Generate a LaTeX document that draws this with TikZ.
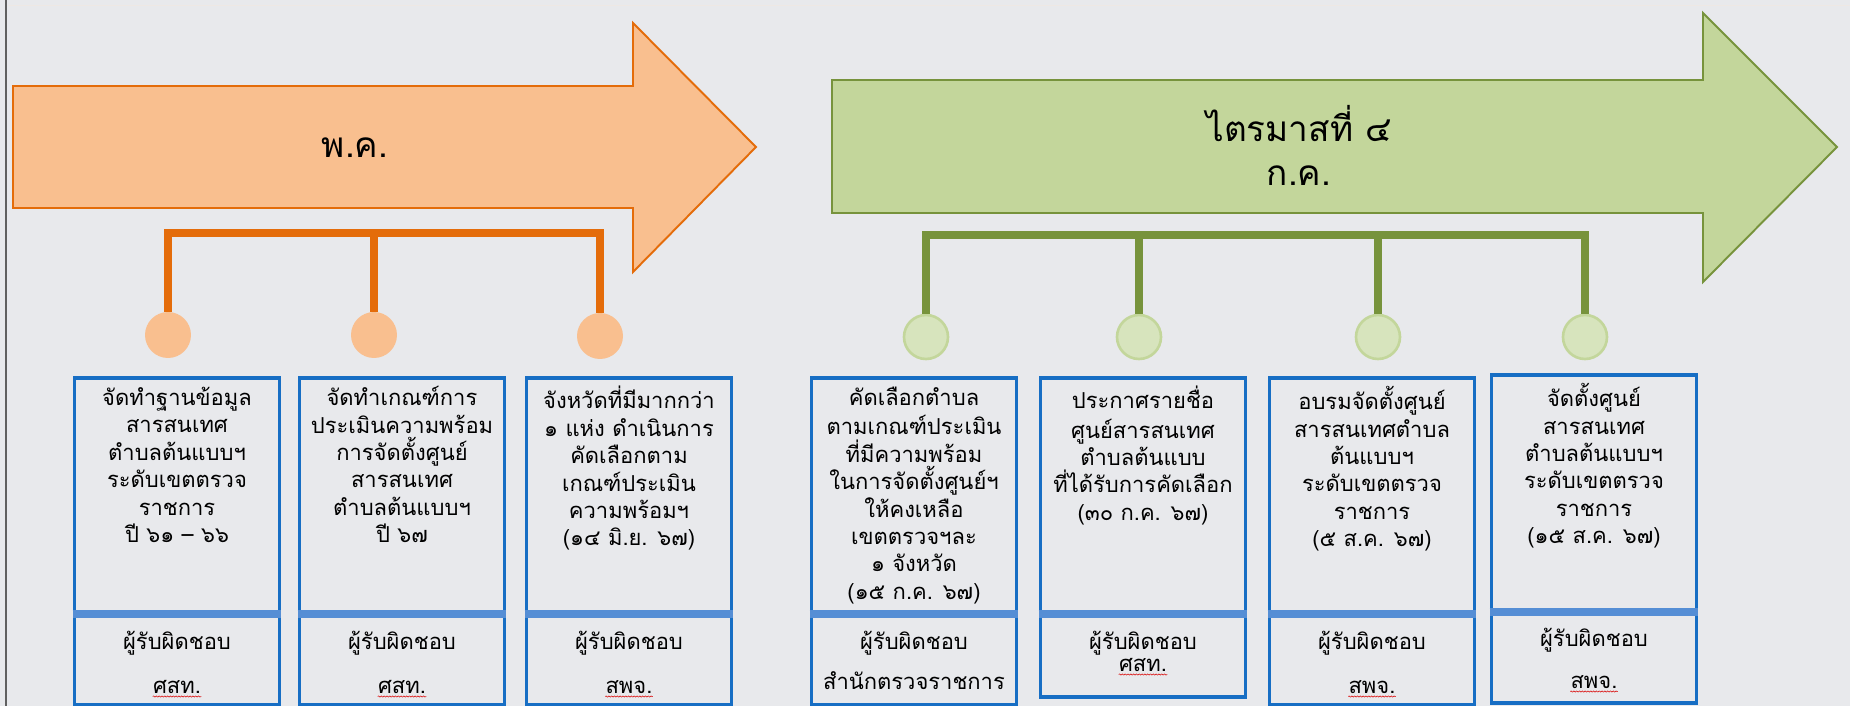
\documentclass[tikz,border=0pt]{standalone}
\usepackage{fontspec}
\newfontfamily\thaifont[Script=Thai]{Loma}
\usepackage{tikz}
\usetikzlibrary{positioning, decorations.pathmorphing}
\definecolor{bgpaper}{RGB}{232,233,236}
\definecolor{peach}{RGB}{249,191,143}
\definecolor{darkorange}{RGB}{228,108,10}
\definecolor{leaf}{RGB}{195,214,155}
\definecolor{paleleaf}{RGB}{215,228,189}
\definecolor{olive}{RGB}{119,147,60}
\definecolor{boxblue}{RGB}{23,110,196}
\definecolor{barblue}{RGB}{85,142,213}
\newcommand\taskfont{\thaifont\fontsize{12.5}{15.6}\selectfont}
\newcommand\headfont{\thaifont\fontsize{20}{25}\selectfont}

\begin{document}
\begin{tikzpicture}[x=0.02cm, y=-0.02cm,
    taskbox/.style={draw=boxblue, line width=2.2pt, minimum width=4.1cm, inner sep=0pt, anchor=north},
    divider/.style={barblue, line width=4.5pt},
    tasktext/.style={font=\taskfont, align=center, inner sep=0pt, anchor=north},
    whotext/.style={font=\taskfont, inner sep=0pt, anchor=base},
    spellmark/.style={red!85!black, line width=0.3pt, decorate, decoration={snake, amplitude=0.35pt, segment length=1.6pt}},
    orangedot/.style={circle, fill=peach, minimum size=0.92cm, inner sep=0pt},
    greendot/.style={circle, fill=paleleaf, draw=leaf, line width=1.5pt, minimum size=0.88cm, inner sep=0pt},
    orangeline/.style={darkorange, line width=4.5pt},
    greenline/.style={olive, line width=4.5pt},
    headtext/.style={font=\headfont, align=center}]
        \useasboundingbox (0,0) rectangle (1850,706);
        \fill[bgpaper] (0,0) rectangle (1850,706);
        \draw[bgpaper!85!brown!60!white, line width=0.5pt] (8,5) -- (1850,5);
        \draw[gray!75!black, line width=1.3pt] (6,0) -- (6,706);

        \filldraw[fill=peach, draw=darkorange, line width=1.1pt] (13,86) -- (633,86) -- (633,23) -- (756,147) -- (633,272) -- (633,208) -- (13,208) -- cycle;
        \filldraw[fill=leaf, draw=olive, line width=1.1pt] (832,80) -- (1703,80) -- (1703,13) -- (1837,147) -- (1703,282) -- (1703,213) -- (832,213) -- cycle;
        \node[headtext] (may) at (355,148) {พ.ค.};
        \node[headtext] (july) at (1299,145) {ไตรมาสที่ ๔\\ก.ค.};

        \coordinate (obar) at (0,233);
        \coordinate (gbar) at (0,235);
        \coordinate (split) at (0,614);
        \coordinate (splitb) at (0,612);

        \node[orangedot] (oc1) at (168,335) {};
        \node[orangedot] (oc2) at (374,335) {};
        \node[orangedot] (oc3) at (600,336) {};
        \node[greendot] (gc1) at (926,337) {};
        \node[greendot] (gc2) at (1139,337) {};
        \node[greendot] (gc3) at (1378,337) {};
        \node[greendot] (gc4) at (1585,337) {};
        \draw[orangeline] (oc1.north) |- (oc3.north |- obar) -- (oc3.north);
        \draw[orangeline] (oc2.north) -- (oc2.north |- obar);
        \draw[greenline] (gc1.north) |- (gc4.north |- gbar) -- (gc4.north);
        \draw[greenline] (gc2.north) -- (gc2.north |- gbar);
        \draw[greenline] (gc3.north) -- (gc3.north |- gbar);

        \node[taskbox, minimum height=6.54cm] (b1) at (177,376) {};
        \node[taskbox, minimum height=6.54cm] (b2) at (402,376) {};
        \node[taskbox, minimum height=6.54cm] (b3) at (629,376) {};
        \node[taskbox, minimum height=6.54cm] (b4) at (914,376) {};
        \node[taskbox, minimum height=6.38cm] (b5) at (1143,376) {};
        \node[taskbox, minimum height=6.54cm] (b6) at (1372,376) {};
        \node[taskbox, minimum height=6.56cm] (b7) at (1594,373) {};
        \draw[divider] (b1.west |- split) -- (b1.east |- split);
        \draw[divider] (b2.west |- split) -- (b2.east |- split);
        \draw[divider] (b3.west |- split) -- (b3.east |- split);
        \draw[divider] (b4.west |- split) -- (b4.east |- split);
        \draw[divider] (b5.west |- split) -- (b5.east |- split);
        \draw[divider] (b6.west |- split) -- (b6.east |- split);
        \draw[divider] (b7.west |- splitb) -- (b7.east |- splitb);

        \node[tasktext, below=0.2cm of b1.north] (t1) {\strut จัดทำฐานข้อมูล\\สารสนเทศ\\ตำบลต้นแบบฯ\\ระดับเขตตรวจ\\ราชการ\\ปี ๖๑ – ๖๖};
        \node[tasktext, below=0.2cm of b2.north] (t2) {\strut จัดทำเกณฑ์การ\\ประเมินความพร้อม\\การจัดตั้งศูนย์\\สารสนเทศ\\ตำบลต้นแบบฯ\\ปี ๖๗};
        \node[tasktext, below=0.2cm of b3.north] (t3) {\strut จังหวัดที่มีมากกว่า\\๑ แห่ง ดำเนินการ\\คัดเลือกตาม\\เกณฑ์ประเมิน\\ความพร้อมฯ\\(๑๔ มิ.ย. ๖๗)};
        \node[tasktext, below=0.2cm of b4.north] (t4) {\strut คัดเลือกตำบล\\ตามเกณฑ์ประเมิน\\ที่มีความพร้อม\\ในการจัดตั้งศูนย์ฯ\\ให้คงเหลือ\\เขตตรวจฯละ\\๑ จังหวัด\\(๑๕ ก.ค. ๖๗)};
        \node[tasktext, below=0.2cm of b5.north] (t5) {\strut ประกาศรายชื่อ\\ศูนย์สารสนเทศ\\ตำบลต้นแบบ\\ที่ได้รับการคัดเลือก\\(๓๐ ก.ค. ๖๗)};
        \node[tasktext, below=0.2cm of b6.north] (t6) {\strut อบรมจัดตั้งศูนย์\\สารสนเทศตำบล\\ต้นแบบฯ\\ระดับเขตตรวจ\\ราชการ\\(๕ ส.ค. ๖๗)};
        \node[tasktext, below=0.2cm of b7.north] (t7) {\strut จัดตั้งศูนย์\\สารสนเทศ\\ตำบลต้นแบบฯ\\ระดับเขตตรวจ\\ราชการ\\(๑๕ ส.ค. ๖๗)};

        \node[whotext] (w1) at (177,649) {ผู้รับผิดชอบ};
        \node[whotext] (w2) at (402,649) {ผู้รับผิดชอบ};
        \node[whotext] (w3) at (629,649) {ผู้รับผิดชอบ};
        \node[whotext] (w4) at (914,649) {ผู้รับผิดชอบ};
        \node[whotext] (w5) at (1143,649) {ผู้รับผิดชอบ};
        \node[whotext] (w6) at (1372,649) {ผู้รับผิดชอบ};
        \node[whotext] (w7) at (1594,646) {ผู้รับผิดชอบ};
        \node[whotext] (u1) at (177,693) {ศสท.};
        \node[whotext] (u2) at (402,693) {ศสท.};
        \node[whotext] (u3) at (629,693) {สพจ.};
        \node[whotext] (u4) at (914,689) {สำนักตรวจราชการ};
        \node[whotext] (u5) at (1143,671) {ศสท.};
        \node[whotext] (u6) at (1372,693) {สพจ.};
        \node[whotext] (u7) at (1594,688) {สพจ.};
        \draw[spellmark] ([yshift=-2pt]u1.base west) -- ([yshift=-2pt]u1.base east);
        \draw[spellmark] ([yshift=-2pt]u2.base west) -- ([yshift=-2pt]u2.base east);
        \draw[spellmark] ([yshift=-2pt]u3.base west) -- ([yshift=-2pt]u3.base east);
        \draw[spellmark] ([yshift=-2pt]u5.base west) -- ([yshift=-2pt]u5.base east);
        \draw[spellmark] ([yshift=-2pt]u6.base west) -- ([yshift=-2pt]u6.base east);
        \draw[spellmark] ([yshift=-2pt]u7.base west) -- ([yshift=-2pt]u7.base east);
\end{tikzpicture}
\end{document}
